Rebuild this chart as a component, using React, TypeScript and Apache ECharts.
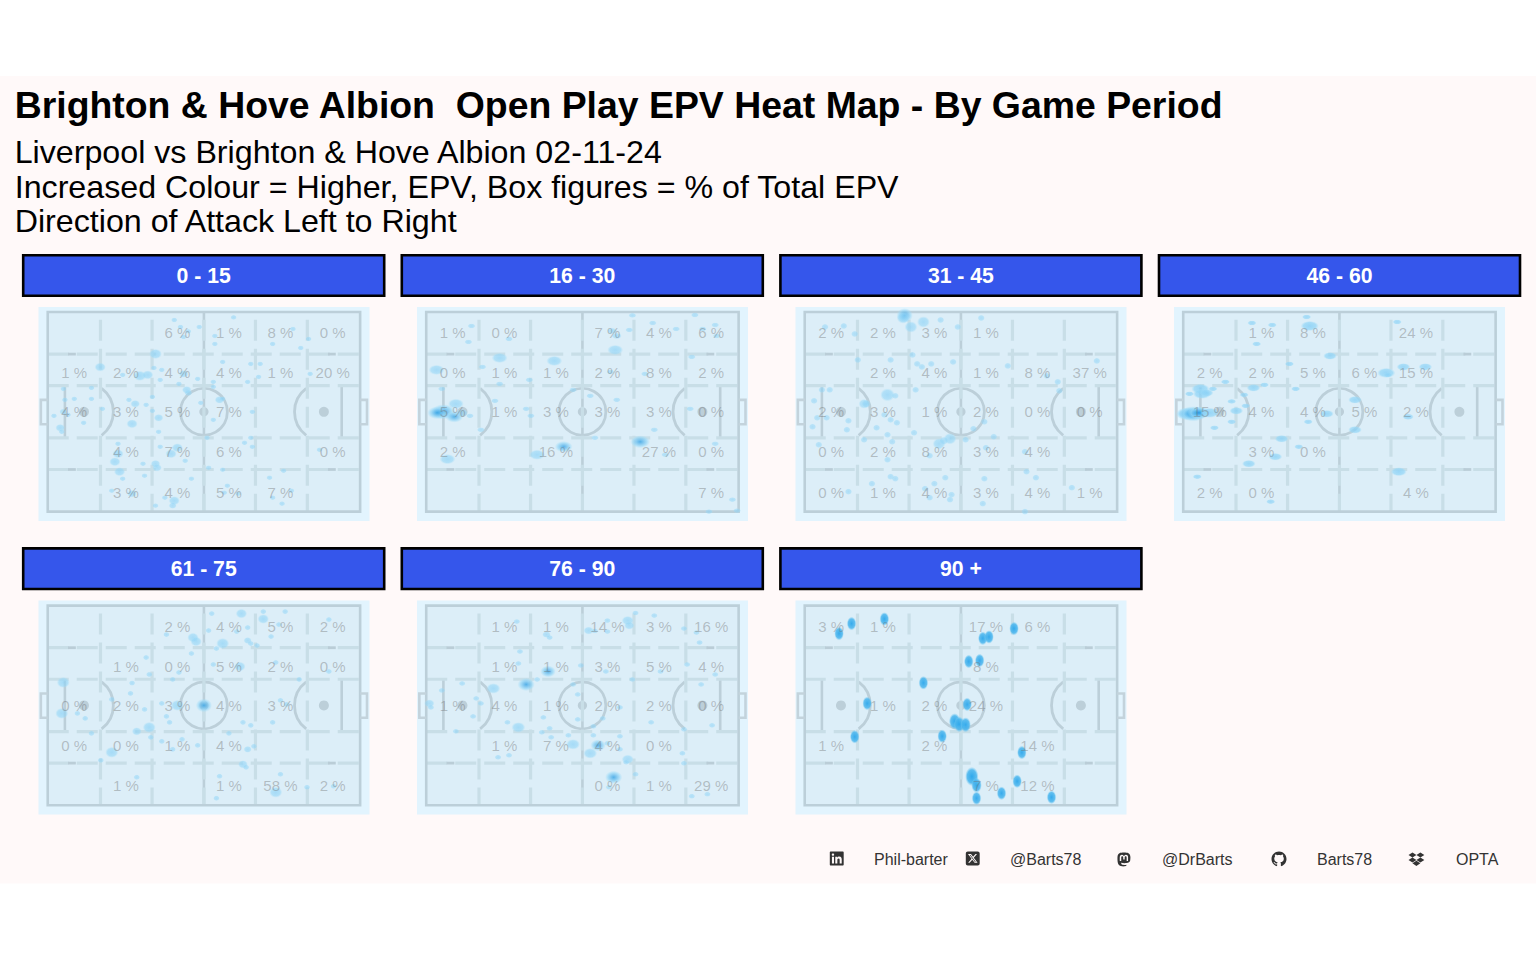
import React, { useEffect, useRef } from "react";
import * as echarts from "echarts";

// ---------- text ----------
const TITLE = "Brighton & Hove Albion  Open Play EPV Heat Map - By Game Period";
const SUBTITLES = [
  "Liverpool vs Brighton & Hove Albion 02-11-24",
  "Increased Colour = Higher, EPV, Box figures = % of Total EPV",
  "Direction of Attack Left to Right",
];
const PERIODS = ["0 - 15", "16 - 30", "31 - 45", "46 - 60", "61 - 75", "76 - 90", "90 +"];
const FOOTER = ["Phil-barter", "@Barts78", "@DrBarts", "Barts78", "OPTA"];

// ---------- zone percentages (5 rows, 6 columns; null = no label) ----------
const _ = null;
const PCT_0_15 = [[_, _, 6, 1, 8, 0], [1, 2, 4, 4, 1, 20], [4, 3, 5, 7, _, _], [_, 4, 7, 6, _, 0], [_, 3, 4, 5, 7, _]];
const PCT_16_30 = [[1, 0, _, 7, 4, 6], [0, 1, 1, 2, 8, 2], [5, 1, 3, 3, 3, 0], [2, _, 16, _, 27, 0], [_, _, _, _, _, 7]];
const PCT_31_45 = [[2, 2, 3, 1, _, _], [_, 2, 4, 1, 8, 37], [2, 3, 1, 2, 0, 0], [0, 2, 8, 3, 4, _], [0, 1, 4, 3, 4, 1]];
const PCT_46_60 = [[_, 1, 8, _, 24, _], [2, 2, 5, 6, 15, _], [15, 4, 4, 5, 2, _], [_, 3, 0, _, _, _], [2, 0, _, _, 4, _]];
const PCT_61_75 = [[_, _, 2, 4, 5, 2], [_, 1, 0, 5, 2, 0], [0, 2, 3, 4, 3, _], [0, 0, 1, 4, _, _], [_, 1, _, 1, 58, 2]];
const PCT_76_90 = [[_, 1, 1, 14, 3, 16], [_, 1, 1, 3, 5, 4], [1, 4, 1, 2, 2, 0], [_, 1, 7, 4, 0, _], [_, _, _, 0, 1, 29]];
const PCT_90_PLUS = [[3, 1, _, 17, 6, _], [_, _, _, 8, _, _], [_, 1, 2, 24, _, _], [1, _, 2, _, 14, _], [_, _, _, 7, 12, _]];
const ZONE_COL = [8.5, 25, 41.5, 58, 74.5, 91.2];
const ZONE_ROW = [10.4, 30.4, 49.8, 69.9, 90.3];

// ---------- EPV density spots: [pitch x, pitch y from top, density] ----------
const EPV_0_15 = [
  [40.5,4],[42.5,7.5],[45,9.7],[43.5,12.5],[48.5,7.5],[59.5,2.7],[53.5,12],[53.5,16],[78.5,8.5],[83.5,13.5],[81,18],[72,16],
  [34.5,21,3],[16.8,27.6,2.5],[56,25],[65,26],[68,26],[67.5,32.5],[64,35],[84,31],[24,31.5],[29.5,32,3],[32,31.5,2.5],[34,28],[36.5,29],
  [43.5,31,2],[36,34],[42,36],[48,33.5],[53,35],[53,37.5],[44.5,39,2],[45,40.5,1.5],[14,38],[5,38.5],[5.5,44],[8.5,43.5],[14,43.5],
  [5,50,1.5],[6.5,51.5],[2,52],[17.5,48.5],[4,58,2],[4.5,60],[11.5,55.5],[26,44],[28,46,2],[31.5,46.5],[33.5,42.5],[33.5,49.5],[35.5,53,2],
  [27,56,2.5],[35.5,60],[49,45.5],[55,44,2],[56,43.5],[65.5,50],[53,54],[51,63],[65,63],[63,65.5],[65.5,67.5],[22.5,66],[22.5,71,2.5],
  [21.5,75,2.5],[36,67.5],[39.5,71,2.5],[41.5,68,2.5],[44,74.5],[30.5,76],[34.5,76,2],[35,78,2],[51.5,78],[56,79],[87,69],[23,80,2.5],
  [75.5,79.5],[31,82],[46,83.5],[71,83],[24,83.5],[57.5,87],[20.5,89.5],[27,91,2],[56.5,90.5],[61,91],[78,89.5],[72,93],[75,96],[37.5,93],
  [40.5,94.5,2.5],[40,97,1.5],[34.5,97],
];
const EPV_16_30 = [
  [14.5,7],[13.5,15],[26.5,13.5],[66,1.7],[86,1.5],[72.5,5.5],[80,8.5],[65,9],[59.5,9.5,1.5],[61,12,1.5],[60.5,19,3],[92.5,6.5],[88.5,8.5],[93,12],
  [85,22.5],[23.5,23,3],[3.3,29,3],[18,27.5],[41,24.5,3],[33,34],[23.5,36],[59,30],[70,31],[5,38.5],[47,39],[52.5,42],[61,44],[22,44.5],
  [32,48.5],[33.5,52],[84.5,48.5],[5.5,50,5],[3.5,50.5,4],[9.5,46,3],[9,52.5,3.5],[11.5,50.5,2],[14,52],[17.5,59],[73,59],[54,63],[68.5,65,4],
  [92.5,66],[44,67.5,3.5],[35.5,71.5,3],[76.5,71.5],[6.8,73.7,3],[98,94],[90.5,100],[99.5,99.5],
];
const EPV_31_45 = [
  [32,1.7,3.5],[31.5,3,2.5],[38,5,2.5],[43.5,4],[56.5,3],[34,7.5,2.5],[6.5,7.5],[12.5,7],[16,11],[49,7.5],[17,24],[27.5,24],[34.5,21.5],[36,26],
  [37.5,27.5],[40.5,26],[47.5,25],[65,27],[77.5,32],[93.5,24.5],[81,35],[81.5,39.5],[5.5,39],[8,39],[3,44.5],[26.5,41.5,3],[29,42],[35.5,39],
  [19,46,2],[19.7,46,1.5],[25.5,51.5],[27.5,54],[29.5,55.5],[4,53],[7,53],[2.5,57.5],[14,54.5],[13.5,59],[23,58],[26.5,61.5],[35,60.5],[19,64],
  [28,65],[4.5,66.5],[26.5,74],[43,66,2.5],[44.5,64.5,1.5],[46.5,63.5,2.5],[51.5,64],[54,58.5],[57.5,55],[60.5,62.5],[58,68],[40,72],[70.5,70],
  [71,80],[74,83],[85.5,88],[27.5,82.5],[29,83.5],[21.5,86],[45,83],[41.5,86],[57.5,83.5],[14,90],[38.5,88.5],[47,91.5],[46.5,94],[40,93],[57,96],[70.5,100],
];
const EPV_46_60 = [
  [39.5,2.5],[22,5.5],[28.5,6.5],[40.5,7,3],[68.5,5],[23.5,16],[47,22,2],[34,26],[65,30.5,3],[65.5,31.5],[70.5,27.5,2],[77.5,27.5,2],[13.5,35],
  [22.5,38,2],[26,36.5],[36,38.5],[2,41],[5.5,38.5,3],[6,41,3],[9.5,38.5],[7.5,40.5,2],[19.5,41.5],[15.5,44.8],[20,47],[17,49.5,2],[55,44,2],
  [1.3,51,4],[3.2,51,5],[5,50.5,4],[8.5,50.5,3],[10,58],[15.5,55],[46,51,2],[40,55],[55,59,2],[31.5,63.5,2],[37,67.5],[29.5,72.5,2],[21,76,2],
  [72,52.5,1.5],[69,80,2.5],[4.5,82.5],[28,95],
];
const EPV_61_75 = [
  [52.5,4],[62,4,2.5],[69,3],[69,6.7,2.5],[76,3],[90,7],[74,9.5],[64,11],[60.5,13],[51.5,12.5],[38,14.5],[71.5,15.5],[46.5,16,2.5],[47.5,18,2.5],
  [56,19,3],[54,21.5],[64,17.5,1.5],[65,19],[67,20],[46,24],[31.5,26],[53,29.5],[61.5,30.5,2.5],[73,28.5],[90,33],[42,33.5],[32.5,34.5],[40,37],
  [80.5,37],[5,38.5,3],[27,38.8],[26.5,44],[20.5,47],[4.5,54,3],[9.5,54],[12,56.5],[31,52],[36.5,49],[41.5,50,3],[50,50,4],[74.5,47.5],[76.5,49.5],
  [38,55.5],[39,58.5],[62.5,58.5],[65,60],[72,58.5],[32.5,61,3],[28.5,63,2],[14,64],[58,64],[33,66],[36.5,68],[43,67],[48,70],[40,72],[20.5,73.5,3],
  [17,77.5],[66,70.5],[64,72,1.5],[62.5,79.5,2],[63.5,81],[28.5,86],[55,85.5],[74.5,84.5],[73,93.5,3],[83,91],[91.5,90.5],[54,96.5],
];
const EPV_76_90 = [
  [67,3.7],[73,5],[64.5,7.5,2.5],[65,10,2],[58,7.5],[29,8],[52,12.5,2],[54,12.7],[58,13],[82.5,11.5],[86.5,13.5],[87.5,18.5],[38.5,14.5,1.5],[39.5,16],
  [30,23],[29.5,29],[49.5,30],[39,33,3.5],[57.5,33],[75,33],[83.5,29.5],[92.5,34.5],[66,37],[35.5,37],[32,39.5,4],[21.5,41.5,3],[47,39.5],[11.5,39],
  [5,42.5],[88,39.5],[48.5,44.5],[16,46.5],[17.5,49],[1,49,2],[1.5,51],[15,55.5],[62,51],[56.5,56.5],[48.5,57],[37.5,56],[26,58.5],[72,58.5],[91.5,60],
  [82.5,62],[29.5,61,3],[39.5,61.5],[37,63.5],[45.5,65],[53.5,60.5],[9.5,63],[53.5,65],[62,65.5],[40,66],[47,69.5,3],[55,70,3.5],[58,69],[52.5,74,3],
  [62,72],[82,74],[64.5,77,2.5],[64,78.5],[82.5,79],[23,76],[26.5,75],[67,84.5],[60,86,4],[58.5,91],[85,95.5],[90,94.5],
];
const EPV_90_PLUS = [
  [15,9],[11,14],[25.5,6.7],[57,16.4],[59,15.7],[67,11.5],[52.5,28],[56,27.5],[38,38.7],[52,49.5],[20,49],[48,58,1.4],[49.5,59.5,1.3],[51.5,59.7,1.2],
  [44,65.4],[16,65.7],[69.5,73.6],[53.5,85.6,1.8],[55,90,1.2],[68,88],[63,94],[55,96.5],[79,96],
];

// ---------- pitch markings, in pitch units ----------
const ZONE_X = [16.9, 33.4, 50, 66.5, 83.1];
const ZONE_Y = [21.1, 36.9, 63.1, 78.9];
const SIX_YARD_X = [5.5, 94.1];
const PENALTY_SPOT_X = [11.6, 88.4];
const GOAL_DEPTH = 2.2;
const GOAL_Y = [44, 56.2];

const FONT = "'Liberation Sans', Arial, Helvetica, sans-serif";
const COL_GREY = "#BCCFD9";
const COL_ZONE = "#C8DEE7";

// layout
const PITCH_LEFT = [38.5, 417, 795.5, 1174];
const PITCH_TOP = [307, 600.6];
const STRIP_LEFT = [22, 400.6, 779.2, 1157.8];
const STRIP_TOP = [254, 547.2];
// spot drawing per panel: width, height (px), peak alpha
const SPOT_STYLE = [
  { w: 6.3, h: 5, a: 0.55 },
  { w: 7.8, h: 5, a: 0.55 },
  { w: 7.2, h: 6.4, a: 0.55 },
  { w: 9, h: 5, a: 0.72 },
  { w: 6.4, h: 5.4, a: 0.55 },
  { w: 6.8, h: 5.2, a: 0.55 },
  { w: 9.5, h: 13.5, a: 0.92 },
];

const ICON_PATHS = {
  iconLinkedin: "M416 32H31.9C14.3 32 0 46.5 0 64.3v383.4C0 465.5 14.3 480 31.9 480H416c17.6 0 32-14.5 32-32.3V64.3c0-17.8-14.4-32.3-32-32.3zM135.4 416H69V202.2h66.5V416zm-33.2-243c-21.3 0-38.5-17.3-38.5-38.5S80.9 96 102.2 96c21.2 0 38.5 17.3 38.5 38.5 0 21.3-17.2 38.5-38.5 38.5zm282.1 243h-66.4V312c0-24.8-.5-56.7-34.5-56.7-34.6 0-39.9 27-39.9 54.9V416h-66.4V202.2h63.7v29.2h.9c8.9-16.8 30.6-34.5 62.9-34.5 67.2 0 79.7 44.3 79.7 101.9V416z",
  iconX: "M64 32C28.7 32 0 60.7 0 96V416c0 35.3 28.7 64 64 64H384c35.3 0 64-28.7 64-64V96c0-35.3-28.7-64-64-64H64zm297.1 84L257.3 234.6 379.4 396H283.8L209 298.1 123.3 396H75.8l111-126.9L69.7 116h98l67.7 89.5L313.6 116h47.5zM323.3 367.6L153.4 142.9H125.1L296.9 367.6h26.3z",
  iconMastodon: "M433 179.11c0-97.2-63.71-125.7-63.71-125.7-62.52-28.7-228.56-28.4-290.48 0 0 0-63.72 28.5-63.72 125.7 0 115.7-6.6 259.4 105.63 289.1 40.51 10.7 75.32 13 103.33 11.4 50.81-2.8 79.32-18.1 79.32-18.1l-1.7-36.9s-36.31 11.4-77.12 10.1c-40.41-1.4-83-4.4-89.63-54a102.54 102.54 0 0 1-.9-13.9c85.63 20.9 158.65 9.1 178.75 6.7 56.12-6.7 105-41.3 111.23-72.9 9.8-49.8 9-121.5 9-121.5zm-75.12 125.2h-46.63v-114.2c0-49.7-64-51.6-64 6.9v62.5h-46.33V197c0-58.5-64-56.6-64-6.9v114.2H90.19c0-122.1-5.2-147.9 18.41-175 25.9-28.9 79.82-30.8 103.83 6.1l11.6 19.5 11.6-19.5c24.11-37.1 78.12-34.8 103.83-6.1 23.71 27.3 18.4 53 18.4 175z",
  iconGithub: "M8 0C3.58 0 0 3.58 0 8c0 3.54 2.29 6.53 5.47 7.59.4.07.55-.17.55-.38 0-.19-.01-.82-.01-1.49-2.01.37-2.53-.49-2.69-.94-.09-.23-.48-.94-.82-1.13-.28-.15-.68-.52-.01-.53.63-.01 1.08.58 1.23.82.72 1.21 1.87.87 2.33.66.07-.52.28-.87.51-1.07-1.78-.2-3.64-.89-3.64-3.95 0-.87.31-1.59.82-2.15-.08-.2-.36-1.02.08-2.12 0 0 .67-.21 2.2.82.64-.18 1.32-.27 2-.27.68 0 1.36.09 2 .27 1.53-1.04 2.2-.82 2.2-.82.44 1.1.16 1.92.08 2.12.51.56.82 1.27.82 2.15 0 3.07-1.87 3.75-3.65 3.95.29.25.54.73.54 1.48 0 1.07-.01 1.93-.01 2.2 0 .21.15.46.55.38C13.71 14.53 16 11.53 16 8c0-4.42-3.58-8-8-8z",
  iconDropbox: "M264.4 116.3l-132 84.3 132 84.3-132 84.3L0 284.1l132.3-84.3L0 116.3 132.3 32l132.1 84.3zM131.6 395.7l132-84.3 132 84.3-132 84.3-132-84.3zm132.8-111.6l132-84.3-132-83.6L395.7 32 528 116.3l-132.3 84.3L528 284.8l-132.3 84.3-131.3-85z",
};
const ICONS = [
  { type: "iconLinkedin", x: 829.8, y: 850.5, s: 14 / 448 },
  { type: "iconX", x: 965.8, y: 850.5, s: 14 / 448 },
  { type: "iconMastodon", x: 1117, y: 851.5, s: 14 / 448 },
  { type: "iconGithub", x: 1271.5, y: 851.5, s: 15 / 16 },
  { type: "iconDropbox", x: 1408.5, y: 851.5, s: 16 / 528 },
];
const FOOTER_X = [874, 1010, 1162, 1317, 1456];

const allPct = [PCT_0_15, PCT_16_30, PCT_31_45, PCT_46_60, PCT_61_75, PCT_76_90, PCT_90_PLUS];
const allEpv = [EPV_0_15, EPV_16_30, EPV_31_45, EPV_46_60, EPV_61_75, EPV_76_90, EPV_90_PLUS];

function renderPitch(_params: any, api: any) {
  const c = (x: number, y: number) => api.coord([x, y]);
  const tl = c(0, 0);
  const br = c(100, 100);
  const scale = (br[0] - tl[0]) / 100;
  const line = (x1: number, y1: number, x2: number, y2: number, stroke: string, lineWidth: number, dash?: number[]) => {
    const a = c(x1, y1);
    const b = c(x2, y2);
    return {
      type: "line",
      shape: { x1: a[0], y1: a[1], x2: b[0], y2: b[1] },
      style: { stroke, lineWidth, lineDash: dash, fill: null },
    };
  };
  const children: any[] = [];
  children.push({ type: "rect", shape: { x: tl[0], y: tl[1], width: br[0] - tl[0], height: br[1] - tl[1] }, style: { fill: "#DCEEF8" } });
  // grey structure
  children.push(line(50, 0, 50, 100, COL_GREY, 2.6));
  SIX_YARD_X.forEach((x) => children.push(line(x, ZONE_Y[1], x, ZONE_Y[2], COL_GREY, 2.6)));
  const mid = c(50, 50);
  children.push({ type: "circle", shape: { cx: mid[0], cy: mid[1], r: 7.5 * scale }, style: { fill: "transparent", stroke: COL_GREY, lineWidth: 2.8 } });
  children.push({ type: "circle", shape: { cx: mid[0], cy: mid[1], r: 4.6 }, style: { fill: COL_GREY } });
  PENALTY_SPOT_X.forEach((x, i) => {
    const p = c(x, 50);
    children.push({ type: "circle", shape: { cx: p[0], cy: p[1], r: 5 }, style: { fill: COL_GREY } });
    const ang = (53 * Math.PI) / 180;
    children.push({
      type: "arc",
      shape: i === 0
        ? { cx: p[0], cy: p[1], r: 9.4 * scale, startAngle: -ang, endAngle: ang }
        : { cx: p[0], cy: p[1], r: 9.4 * scale, startAngle: Math.PI - ang, endAngle: Math.PI + ang },
      style: { fill: null, stroke: COL_GREY, lineWidth: 2.8 },
    });
  });
  // dashed zones
  ZONE_Y.forEach((y) => children.push(line(0, y, 100, y, COL_ZONE, 3.2, [21, 8])));
  ZONE_X.forEach((x) => children.push(line(x, 3.9, x, 100, COL_ZONE, 3.2, [21, 8])));
  [ZONE_Y[0], ZONE_Y[3]].forEach((y) => {
    children.push(line(6.5, y, 9, y, "#BACDD7", 2.8));
    children.push(line(89.7, y, 92.2, y, "#BACDD7", 2.8));
  });
  // outer frame and goals
  children.push({ type: "rect", shape: { x: tl[0], y: tl[1], width: br[0] - tl[0], height: br[1] - tl[1] }, style: { fill: "transparent", stroke: COL_GREY, lineWidth: 2.6 } });
  [[0, -GOAL_DEPTH], [100, 100 + GOAL_DEPTH]].forEach(([a, b]) => {
    const pts = [c(a, GOAL_Y[0]), c(b, GOAL_Y[0]), c(b, GOAL_Y[1]), c(a, GOAL_Y[1])];
    children.push({ type: "polyline", shape: { points: pts }, style: { fill: null, stroke: "#C3D3DC", lineWidth: 2.6 } });
  });
  return { type: "group", children };
}

export default function App() {
  const ref = useRef<HTMLDivElement>(null);
  useEffect(() => {
    if (!ref.current) return;
    Object.entries(ICON_PATHS).forEach(([name, d]) => {
      echarts.graphic.registerShape(name, echarts.graphic.extendPath(d, {}));
    });
    const chart = echarts.init(ref.current, null, { renderer: "svg" });

    const grids: any[] = [];
    const xAxes: any[] = [];
    const yAxes: any[] = [];
    const series: any[] = [];
    const graphics: any[] = [];

    graphics.push({ type: "rect", z: -10, shape: { x: 0, y: 76, width: 1536, height: 807.5 }, style: { fill: "#FFF9F9" } });
    graphics.push({ type: "text", x: 14.7, y: 105, style: { text: TITLE, font: `bold 37.4px ${FONT}`, fill: "#000", textVerticalAlign: "middle" } });
    SUBTITLES.forEach((t, i) => {
      graphics.push({ type: "text", x: 14.7, y: [151.7, 186.7, 220.7][i], style: { text: t, font: `32.2px ${FONT}`, fill: "#000", textVerticalAlign: "middle" } });
    });

    PERIODS.forEach((name, i) => {
      const col = i % 4;
      const row = i < 4 ? 0 : 1;
      const st = SPOT_STYLE[i];
      graphics.push({
        type: "rect",
        shape: { x: STRIP_LEFT[col] + 1.2, y: STRIP_TOP[row] + 1.2, width: 361, height: 40.6 },
        style: { fill: "#3556EB", stroke: "#000", lineWidth: 2.6 },
      });
      graphics.push({
        type: "text",
        x: STRIP_LEFT[col] + 181.7,
        y: STRIP_TOP[row] + 21.5,
        style: { text: name, font: `bold 21.2px ${FONT}`, fill: "#fff", textAlign: "center", textVerticalAlign: "middle" },
      });
      grids.push({
        left: PITCH_LEFT[col],
        top: PITCH_TOP[row],
        width: 331,
        height: 214,
        show: true,
        backgroundColor: "#E2F4FE",
        borderWidth: 0,
      });
      xAxes.push({ gridIndex: i, type: "value", min: -2.95, max: 103, show: false });
      yAxes.push({ gridIndex: i, type: "value", min: -2.5, max: 104.7, inverse: true, show: false });
      series.push({
        type: "custom",
        xAxisIndex: i,
        yAxisIndex: i,
        z: 1,
        silent: true,
        clip: false,
        data: [[0, 0]],
        renderItem: renderPitch,
      });
      series.push({
        type: "scatter",
        xAxisIndex: i,
        yAxisIndex: i,
        z: 2,
        silent: true,
        data: allEpv[i].map((d) => [d[0], d[1], d[2] ?? 1]),
        symbol: "circle",
        symbolSize: (v: number[]) => {
          const k = 1 + (v[2] - 1) * 0.5;
          return [st.w * k, st.h * k];
        },
        itemStyle: {
          opacity: 1,
          color: (p: any) => {
            const w = p.value[2];
            const boost = Math.min(1, st.a + (w - 1) * 0.05);
            const hue = w >= 3.5 ? "28,150,225" : i === 6 ? "40,165,235" : "135,208,246";
            return new echarts.graphic.RadialGradient(0.5, 0.5, 0.5, [
              { offset: 0, color: `rgba(${hue},${boost})` },
              { offset: 0.7, color: `rgba(${i === 6 ? "75,182,238" : "150,215,247"},${boost * 0.92})` },
              { offset: 1, color: `rgba(${i === 6 ? "120,205,243" : "170,224,248"},0.08)` },
            ]);
          },
        },
      });
      const labels: any[] = [];
      allPct[i].forEach((cells, r) =>
        cells.forEach((v, c) => {
          if (v !== null) labels.push([ZONE_COL[c], ZONE_ROW[r], v]);
        })
      );
      series.push({
        type: "scatter",
        xAxisIndex: i,
        yAxisIndex: i,
        z: 3,
        silent: true,
        symbolSize: 1,
        itemStyle: { color: "transparent" },
        data: labels,
        label: {
          show: true,
          position: "inside",
          opacity: 1,
          formatter: (p: any) => `${p.value[2]} %`,
          fontFamily: FONT,
          fontSize: 15,
          color: "rgba(105,105,105,0.38)",
        },
      });
    });

    ICONS.forEach((ic) => {
      graphics.push({ type: ic.type, x: ic.x, y: ic.y, scaleX: ic.s, scaleY: ic.s, style: { fill: "#333" } });
    });
    FOOTER.forEach((t, i) => {
      graphics.push({ type: "text", x: FOOTER_X[i], y: 859.5, style: { text: t, font: `16px ${FONT}`, fill: "#333", textVerticalAlign: "middle" } });
    });

    chart.setOption({
      animation: false,
      backgroundColor: "#fff",
      grid: grids,
      xAxis: xAxes,
      yAxis: yAxes,
      series,
      graphic: { elements: graphics.map((g) => ({ ...g, silent: true })) },
    });
    return () => chart.dispose();
  }, []);
  return <div ref={ref} style={{ position: "absolute", left: 0, top: 0, width: 1536, height: 960 }} />;
}
